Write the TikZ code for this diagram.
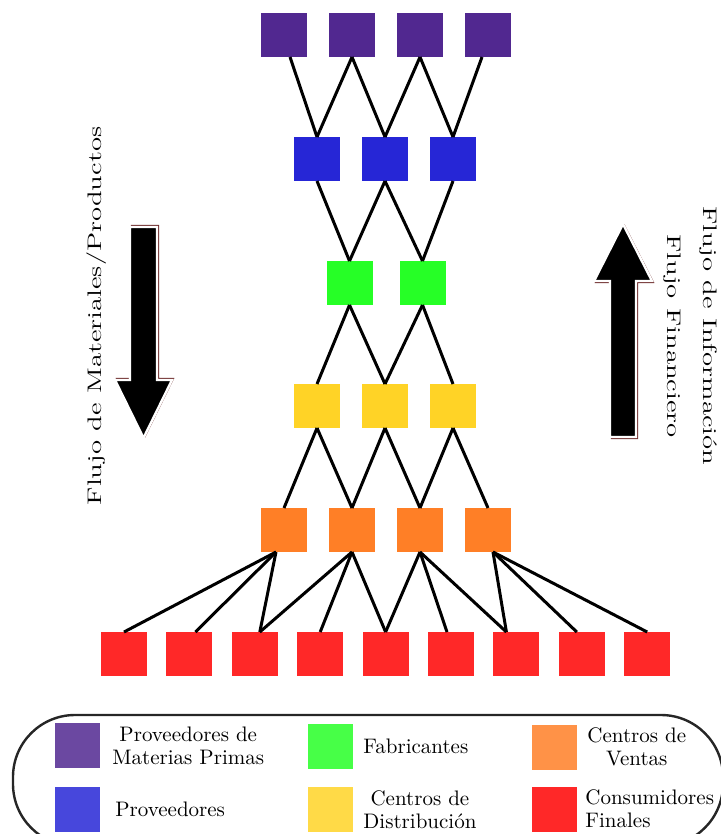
\documentclass[tikz,border=0pt]{standalone}
\usepackage{fontspec}
\usepackage{graphicx}
\usepackage{tikz}
\usetikzlibrary{positioning, calc}
\definecolor{scPurple}{HTML}{512890}
\definecolor{scBlue}{HTML}{2626D6}
\definecolor{scGreen}{HTML}{26FF26}
\definecolor{scYellow}{HTML}{FFD326}
\definecolor{scOrange}{HTML}{FF7F26}
\definecolor{scRed}{HTML}{FF2828}
\definecolor{scRim}{HTML}{6E2C2C}
\definecolor{scFrame}{HTML}{262626}

\begin{document}
\begin{tikzpicture}[x=0.5pt, y=-0.5pt, box/.style={minimum width=23pt, minimum height=22pt, inner sep=0pt, outer sep=0pt}, lgd/.style={minimum width=22.5pt, minimum height=22.5pt, inner sep=0pt, outer sep=0pt}, lnk/.style={line width=1.5pt, color=black}, ltxt/.style={font=\fontsize{10.5}{11.5}\selectfont, align=center, inner sep=0pt}, flow/.style={fill=black, draw=white, line width=1.2pt}, flowrim/.style={draw=scRim, line width=0.6pt}]
\useasboundingbox (0,0) rectangle (721,834);
% supply chain rows
\node[box, fill=scPurple] (pm1) at (284,35) {};
\node[box, fill=scPurple, right=11pt of pm1] (pm2) {};
\node[box, fill=scPurple, right=11pt of pm2] (pm3) {};
\node[box, fill=scPurple, right=11pt of pm3] (pm4) {};
\node[box, fill=scBlue] (pv1) at (317,159) {};
\node[box, fill=scBlue, right=11pt of pv1] (pv2) {};
\node[box, fill=scBlue, right=11pt of pv2] (pv3) {};
\node[box, fill=scGreen] (fb1) at (349.5,283) {};
\node[box, fill=scGreen, right=13.5pt of fb1] (fb2) {};
\node[box, fill=scYellow] (dc1) at (317,406) {};
\node[box, fill=scYellow, right=11pt of dc1] (dc2) {};
\node[box, fill=scYellow, right=11pt of dc2] (dc3) {};
\node[box, fill=scOrange] (cv1) at (284,530) {};
\node[box, fill=scOrange, right=11pt of cv1] (cv2) {};
\node[box, fill=scOrange, right=11pt of cv2] (cv3) {};
\node[box, fill=scOrange, right=11pt of cv3] (cv4) {};
\node[box, fill=scRed] (cf1) at (124,654) {};
\node[box, fill=scRed, right=9.7pt of cf1] (cf2) {};
\node[box, fill=scRed, right=9.7pt of cf2] (cf3) {};
\node[box, fill=scRed, right=9.7pt of cf3] (cf4) {};
\node[box, fill=scRed, right=9.7pt of cf4] (cf5) {};
\node[box, fill=scRed, right=9.7pt of cf5] (cf6) {};
\node[box, fill=scRed, right=9.7pt of cf6] (cf7) {};
\node[box, fill=scRed, right=9.7pt of cf7] (cf8) {};
\node[box, fill=scRed, right=9.7pt of cf8] (cf9) {};
% links
\draw[lnk] ([xshift=3pt]pm1.south)--(pv1.north); \draw[lnk] (pm2.south)--(pv1.north); \draw[lnk] (pm2.south)--(pv2.north); \draw[lnk] (pm3.south)--(pv2.north); \draw[lnk] (pm3.south)--(pv3.north); \draw[lnk] ([xshift=-3pt]pm4.south)--(pv3.north);
\draw[lnk] (pv1.south)--(fb1.north); \draw[lnk] (pv2.south)--(fb1.north); \draw[lnk] (pv2.south)--(fb2.north); \draw[lnk] (pv3.south)--(fb2.north);
\draw[lnk] (fb1.south)--(dc1.north); \draw[lnk] (fb1.south)--(dc2.north); \draw[lnk] (fb2.south)--(dc2.north); \draw[lnk] (fb2.south)--(dc3.north);
\draw[lnk] (dc1.south)--(cv1.north); \draw[lnk] (dc1.south)--(cv2.north); \draw[lnk] (dc2.south)--(cv2.north); \draw[lnk] (dc2.south)--(cv3.north); \draw[lnk] (dc3.south)--(cv3.north); \draw[lnk] (dc3.south)--(cv4.north);
\draw[lnk] ([xshift=-4pt]cv1.south)--(cf1.north); \draw[lnk] ([xshift=-4pt]cv1.south)--([xshift=3pt]cf2.north); \draw[lnk] ([xshift=-4pt]cv1.south)--([xshift=2.5pt]cf3.north);
\draw[lnk] (cv2.south)--([xshift=2.5pt]cf3.north); \draw[lnk] (cv2.south)--(cf4.north); \draw[lnk] (cv2.south)--(cf5.north);
\draw[lnk] (cv3.south)--(cf5.north); \draw[lnk] (cv3.south)--([xshift=-2pt]cf6.north); \draw[lnk] (cv3.south)--([xshift=-5pt]cf7.north);
\draw[lnk] ([xshift=2.5pt]cv4.south)--([xshift=-5pt]cf7.north); \draw[lnk] ([xshift=2.5pt]cv4.south)--([xshift=-2.5pt]cf8.north); \draw[lnk] ([xshift=2.5pt]cv4.south)--(cf9.north);
% flow arrows
\draw[flowrim, shift={(1.5,-1.5)}] (130,227)--(157,227)--(157,380)--(172,380)--(143.5,438)--(115,380)--(130,380)--cycle;
\draw[flow] (130,227)--(157,227)--(157,380)--(172,380)--(143.5,438)--(115,380)--(130,380)--cycle;
\node[rotate=90, font=\Large, inner sep=0pt] (matflow) at (97,316) {\scalebox{1}[0.68]{Flujo de Materiales/Productos}};
\draw[flowrim, shift={(1.5,1.5)}] (610,437)--(636,437)--(636,281)--(652,281)--(623,224)--(594,281)--(610,281)--cycle;
\draw[flow] (610,437)--(636,437)--(636,281)--(652,281)--(623,224)--(594,281)--(610,281)--cycle;
\node[rotate=-90, align=center, font=\Large, inner sep=0pt] (infoflow) at (690,336) {\scalebox{1}[0.68]{Flujo de Información}\\\scalebox{1}[0.68]{Flujo Financiero}};
% legend
\draw[line width=1.2pt, draw=scFrame, rounded corners=31pt] (13,715) rectangle (723,846);
\node[lgd, fill=scPurple!85] (lpm) at (77.5,745.5) {};
\node[lgd, fill=scBlue!85, below=9.5pt of lpm] (lpv) {};
\node[lgd, fill=scGreen!85] (lfb) at (330.5,746.5) {};
\node[lgd, fill=scYellow!85, below=9pt of lfb] (ldc) {};
\node[lgd, fill=scOrange!85] (lcv) at (554.5,747) {};
\node[lgd, fill=scRed, below=8.5pt of lcv] (lcf) {};
\node[ltxt, right=6pt of lpm] (tpm) {Proveedores de\\Materias Primas};
\node[ltxt, right=7.5pt of lpv] (tpv) {Proveedores};
\node[ltxt, right=5pt of lfb] (tfb) {Fabricantes};
\node[ltxt, right=5pt of ldc] (tdc) {Centros de\\Distribución};
\node[ltxt, right=5pt of lcv] (tcv) {Centros de\\Ventas};
\node[ltxt, align=left, right=4pt of lcf] (tcf) {Consumidores\\Finales};
\end{tikzpicture}
\end{document}
